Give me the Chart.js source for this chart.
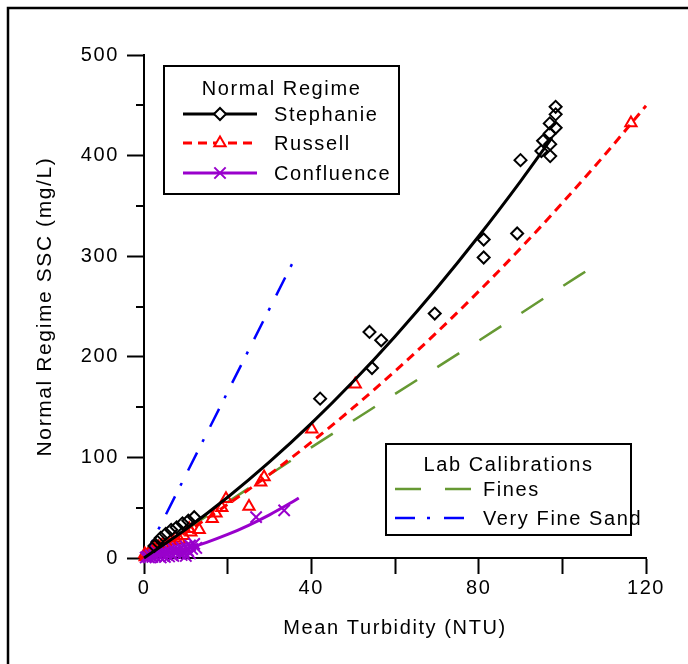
<!DOCTYPE html>
<html>
<head>
<meta charset="utf-8">
<title>Normal Regime SSC vs Mean Turbidity</title>
<script src="https://cdn.jsdelivr.net/npm/chart.js@4.4.1/dist/chart.umd.min.js"></script>
<style>
  html, body { margin: 0; padding: 0; background: #fff; }
  #wrap { position: relative; width: 688px; height: 664px; }
</style>
</head>
<body>
<div id="wrap"><canvas id="chart" width="688" height="664"></canvas></div>
<script>
const FONT = '"Liberation Sans", Arial, Helvetica, sans-serif';
const SPACING = '1.6px';

// Stephanie samples and fitted curve
const stephanieNtu = [2.5, 3.2, 4.0, 5.2, 6.5, 7.8, 9.2, 10.6, 12.0, 42.1, 53.9, 54.5, 56.7, 69.5, 81.2, 81.2, 89.2, 90.0, 95.0, 95.4, 97.0, 97.0, 97.1, 97.1, 98.4, 98.4, 98.4];
const stephanieSsc = [12, 16, 20, 24, 28, 30.5, 34.5, 37, 40.5, 158.4, 224.7, 188.9, 216.4, 243, 316.6, 298.7, 322.6, 395.5, 404.5, 414.7, 422, 432, 411.4, 399.5, 427.7, 441, 448.5];
const stephanieFitNtu = [0, 10, 20, 30, 40, 50, 60, 70, 80, 90, 97.5];
const stephanieFitSsc = [0, 28.6, 60.4, 95.5, 133.8, 175.4, 220.3, 268.4, 319.8, 374.4, 417.6];

// Russell samples and fitted curve
const russellNtu = [0.2, 0.3, 0.8, 1.2, 2.0, 2.5, 3.5, 4.5, 5.5, 6.5, 7.5, 8.5, 9.5, 10.8, 11.2, 13.2, 16.3, 17.2, 18.6, 19.6, 25.1, 27.9, 28.7, 40.1, 50.5, 116.4];
const russellSsc = [4, 1, 3, 5, 6, 9, 11, 14, 13, 17, 20, 18, 22, 29, 25.7, 28, 39, 44.6, 50, 58.9, 51.2, 75.4, 80.4, 127.9, 172.6, 432.5];
const russellFitNtu = [0, 10, 20, 30, 40, 50, 60, 70, 80, 90, 100, 110, 120];
const russellFitSsc = [0, 25.5, 53.3, 83.1, 115.2, 149.4, 185.7, 224.3, 265.0, 307.8, 352.9, 400.1, 449.5];

// Confluence samples and fitted curve
const confluenceNtu = [0.4, 0.8, 1.2, 1.6, 2.0, 2.4, 2.8, 3.2, 3.6, 4.0, 4.5, 5.0, 5.5, 6.0, 6.5, 7.0, 7.5, 8.0, 8.5, 9.0, 9.5, 10.0, 10.5, 11.0, 11.5, 12.0, 3.0, 5.0, 7.0, 9.0, 4.0, 6.0, 8.0, 10.0, 11.0, 12.5, 26.8, 33.5];
const confluenceSsc = [0.5, 1.5, 0.5, 2.5, 1.0, 3.0, 1.5, 4.0, 2.0, 5.0, 2.5, 6.5, 3.0, 7.5, 4.0, 8.5, 5.0, 9.5, 4.5, 10.5, 6.0, 11.5, 7.5, 12.5, 9.0, 14.0, 5.5, 1.0, 2.0, 3.0, 0.5, 1.5, 6.5, 2.0, 4.5, 10.0, 40.6, 47.3];
const confluenceFitNtu = [0, 5, 10, 15, 20, 25, 30, 35, 37];
const confluenceFitSsc = [0, 3.9, 9.1, 15.6, 23.4, 32.5, 42.9, 54.6, 59.6];

// lab calibration lines
const finesNtu = [0, 20, 40, 60, 80, 100, 106];
const finesSsc = [0, 55.5, 110, 163, 216, 270, 286];
const sandNtu = [0, 36.2];
const sandSsc = [0, 299];

// axis labels
const xTickLabels = [0, 40, 80, 120];
const yTickLabels = [0, 100, 200, 300, 400, 500];
const yMinorTicks = [50, 150, 250, 350, 450];

const pts = (xs, ys) => xs.map((x, i) => ({ x: x, y: ys[i] }));

const BLACK = '#000000';
const RED = '#ff0000';
const PURPLE = '#9900cc';
const GREEN = '#669933';
const BLUE = '#0000ff';

Chart.defaults.font.family = FONT;
Chart.defaults.font.size = 20;
Chart.defaults.color = '#000';

// boxed legends inside the plot
const legendGroups = [
  {
    title: 'Normal Regime', box: { x: 164, y: 66, w: 235, h: 128 }, titleY: 89,
    lineFrom: 183, lineTo: 257, textX: 274,
    rows: [
      { line: 'stephanieFit', marker: 'stephanie', y: 114 },
      { line: 'russellFit', marker: 'russell', y: 143 },
      { line: 'confluenceFit', marker: 'confluence', y: 173 }
    ]
  },
  {
    title: 'Lab Calibrations', box: { x: 386, y: 444, w: 245, h: 91 }, titleY: 465,
    lineFrom: 395, lineTo: 471, textX: 483,
    rows: [
      { line: 'fines', y: 489 },
      { line: 'sand', y: 518 }
    ]
  }
];

const spacingPlugin = {
  id: 'spacing',
  beforeDraw(chart) {
    chart.ctx.letterSpacing = SPACING;
  }
};

const framePlugin = {
  id: 'frame',
  beforeDraw(chart) {
    const ctx = chart.ctx;
    ctx.save();
    ctx.strokeStyle = '#000';
    ctx.lineWidth = 2.5;
    ctx.beginPath();
    ctx.moveTo(8, chart.height);
    ctx.lineTo(8, 8);
    ctx.lineTo(chart.width, 8);
    ctx.stroke();
    ctx.restore();
  }
};

// short ticks between the labelled ones on the y axis
const minorTickPlugin = {
  id: 'minorTicks',
  afterDraw(chart) {
    const y = chart.scales.y;
    const ctx = chart.ctx;
    ctx.save();
    ctx.strokeStyle = '#000';
    ctx.lineWidth = 2;
    yMinorTicks.forEach(v => {
      const py = Math.round(y.getPixelForValue(v));
      ctx.beginPath();
      ctx.moveTo(y.right - 8, py);
      ctx.lineTo(y.right, py);
      ctx.stroke();
    });
    ctx.restore();
  }
};

function findDataset(chart, key) {
  return chart.data.datasets.find(d => d.key === key);
}

const boxLegendPlugin = {
  id: 'boxLegend',
  afterDraw(chart) {
    const ctx = chart.ctx;
    ctx.save();
    ctx.letterSpacing = SPACING;
    legendGroups.forEach(g => {
      ctx.fillStyle = '#fff';
      ctx.fillRect(g.box.x, g.box.y, g.box.w, g.box.h);
      ctx.strokeStyle = '#000';
      ctx.lineWidth = 2;
      ctx.setLineDash([]);
      ctx.strokeRect(g.box.x, g.box.y, g.box.w, g.box.h);

      ctx.fillStyle = '#000';
      ctx.font = '20px ' + FONT;
      ctx.textBaseline = 'middle';
      ctx.textAlign = 'center';
      ctx.fillText(g.title, g.box.x + g.box.w / 2, g.titleY);

      g.rows.forEach(r => {
        const ds = findDataset(chart, r.line);
        ctx.save();
        ctx.strokeStyle = ds.borderColor;
        ctx.lineWidth = ds.borderWidth;
        ctx.setLineDash(ds.borderDash || []);
        ctx.beginPath();
        ctx.moveTo(g.lineFrom, r.y);
        ctx.lineTo(g.lineTo, r.y);
        ctx.stroke();
        ctx.restore();

        if (r.marker) {
          const m = findDataset(chart, r.marker);
          ctx.save();
          ctx.setLineDash([]);
          ctx.strokeStyle = m.borderColor;
          ctx.fillStyle = '#fff';
          ctx.lineWidth = m.pointBorderWidth;
          Chart.helpers.drawPoint(ctx, {
            pointStyle: m.pointStyle,
            radius: m.pointRadius,
            rotation: 0,
            borderWidth: m.pointBorderWidth
          }, (g.lineFrom + g.lineTo) / 2, r.y);
          ctx.restore();
        }

        ctx.fillStyle = '#000';
        ctx.textAlign = 'left';
        ctx.fillText(ds.label, g.textX, r.y + 1);
      });
    });
    ctx.restore();
  }
};

const fitLine = (key, label, xs, ys, color, width, dash, order) => ({
  key: key,
  label: label,
  data: pts(xs, ys),
  showLine: true,
  borderColor: color,
  borderWidth: width,
  borderDash: dash,
  pointRadius: 0,
  cubicInterpolationMode: 'monotone',
  clip: false,
  order: order
});

const samples = (key, label, xs, ys, color, style, radius, order) => ({
  key: key,
  label: label,
  data: pts(xs, ys),
  showLine: false,
  borderColor: color,
  backgroundColor: 'rgba(0,0,0,0)',
  pointStyle: style,
  pointRadius: radius,
  pointBorderWidth: 2,
  pointBackgroundColor: 'rgba(0,0,0,0)',
  clip: false,
  order: order
});

new Chart(document.getElementById('chart'), {
  type: 'scatter',
  data: {
    datasets: [
      fitLine('stephanieFit', 'Stephanie', stephanieFitNtu, stephanieFitSsc, BLACK, 3, [], 1),
      samples('stephanie', 'Stephanie', stephanieNtu, stephanieSsc, BLACK, 'rectRot', 6, 2),
      fitLine('russellFit', 'Russell', russellFitNtu, russellFitSsc, RED, 3, [9, 6], 5),
      samples('russell', 'Russell', russellNtu, russellSsc, RED, 'triangle', 6.5, 6),
      fitLine('confluenceFit', 'Confluence', confluenceFitNtu, confluenceFitSsc, PURPLE, 3, [], 3),
      samples('confluence', 'Confluence', confluenceNtu, confluenceSsc, PURPLE, 'crossRot', 8, 4),
      fitLine('fines', 'Fines', finesNtu, finesSsc, GREEN, 2.5, [26, 24], 7),
      fitLine('sand', 'Very Fine Sand', sandNtu, sandSsc, BLUE, 2.5, [20, 12, 3, 14], 8)
    ]
  },
  options: {
    responsive: false,
    animation: false,
    devicePixelRatio: 1,
    layout: { padding: { top: 55, right: 42, bottom: 0, left: 0 } },
    plugins: {
      legend: { display: false },
      tooltip: { enabled: false }
    },
    scales: {
      x: {
        type: 'linear',
        min: 0,
        max: 120,
        afterFit: s => { s.height = 106; },
        border: { display: true, color: '#000', width: 2 },
        grid: { drawOnChartArea: false, drawTicks: true, tickLength: 16, tickWidth: 2, tickColor: '#000' },
        ticks: {
          stepSize: 20, padding: 2, autoSkip: false, maxRotation: 0, color: '#000',
          font: { size: 20 },
          callback: v => xTickLabels.includes(v) ? String(v) : ''
        },
        title: { display: true, text: 'Mean Turbidity (NTU)', color: '#000', font: { size: 20 }, padding: { top: 0, bottom: 24 } }
      },
      y: {
        type: 'linear',
        min: 0,
        max: 500,
        afterFit: s => { s.width = 144; },
        border: { display: true, color: '#000', width: 2 },
        grid: {
          drawOnChartArea: false, drawTicks: true, tickLength: 17, tickWidth: 2,
          tickColor: c => (c.tick && yTickLabels.includes(c.tick.value)) ? '#000' : 'rgba(0,0,0,0)'
        },
        ticks: {
          stepSize: 50, padding: 8, autoSkip: false, color: '#000',
          font: { size: 20 },
          callback: v => yTickLabels.includes(v) ? String(v) : ''
        },
        title: { display: true, text: 'Normal Regime SSC (mg/L)', color: '#000', font: { size: 21 }, padding: { top: 33, bottom: 0 } }
      }
    }
  },
  plugins: [spacingPlugin, framePlugin, minorTickPlugin, boxLegendPlugin]
});
</script>
</body>
</html>
